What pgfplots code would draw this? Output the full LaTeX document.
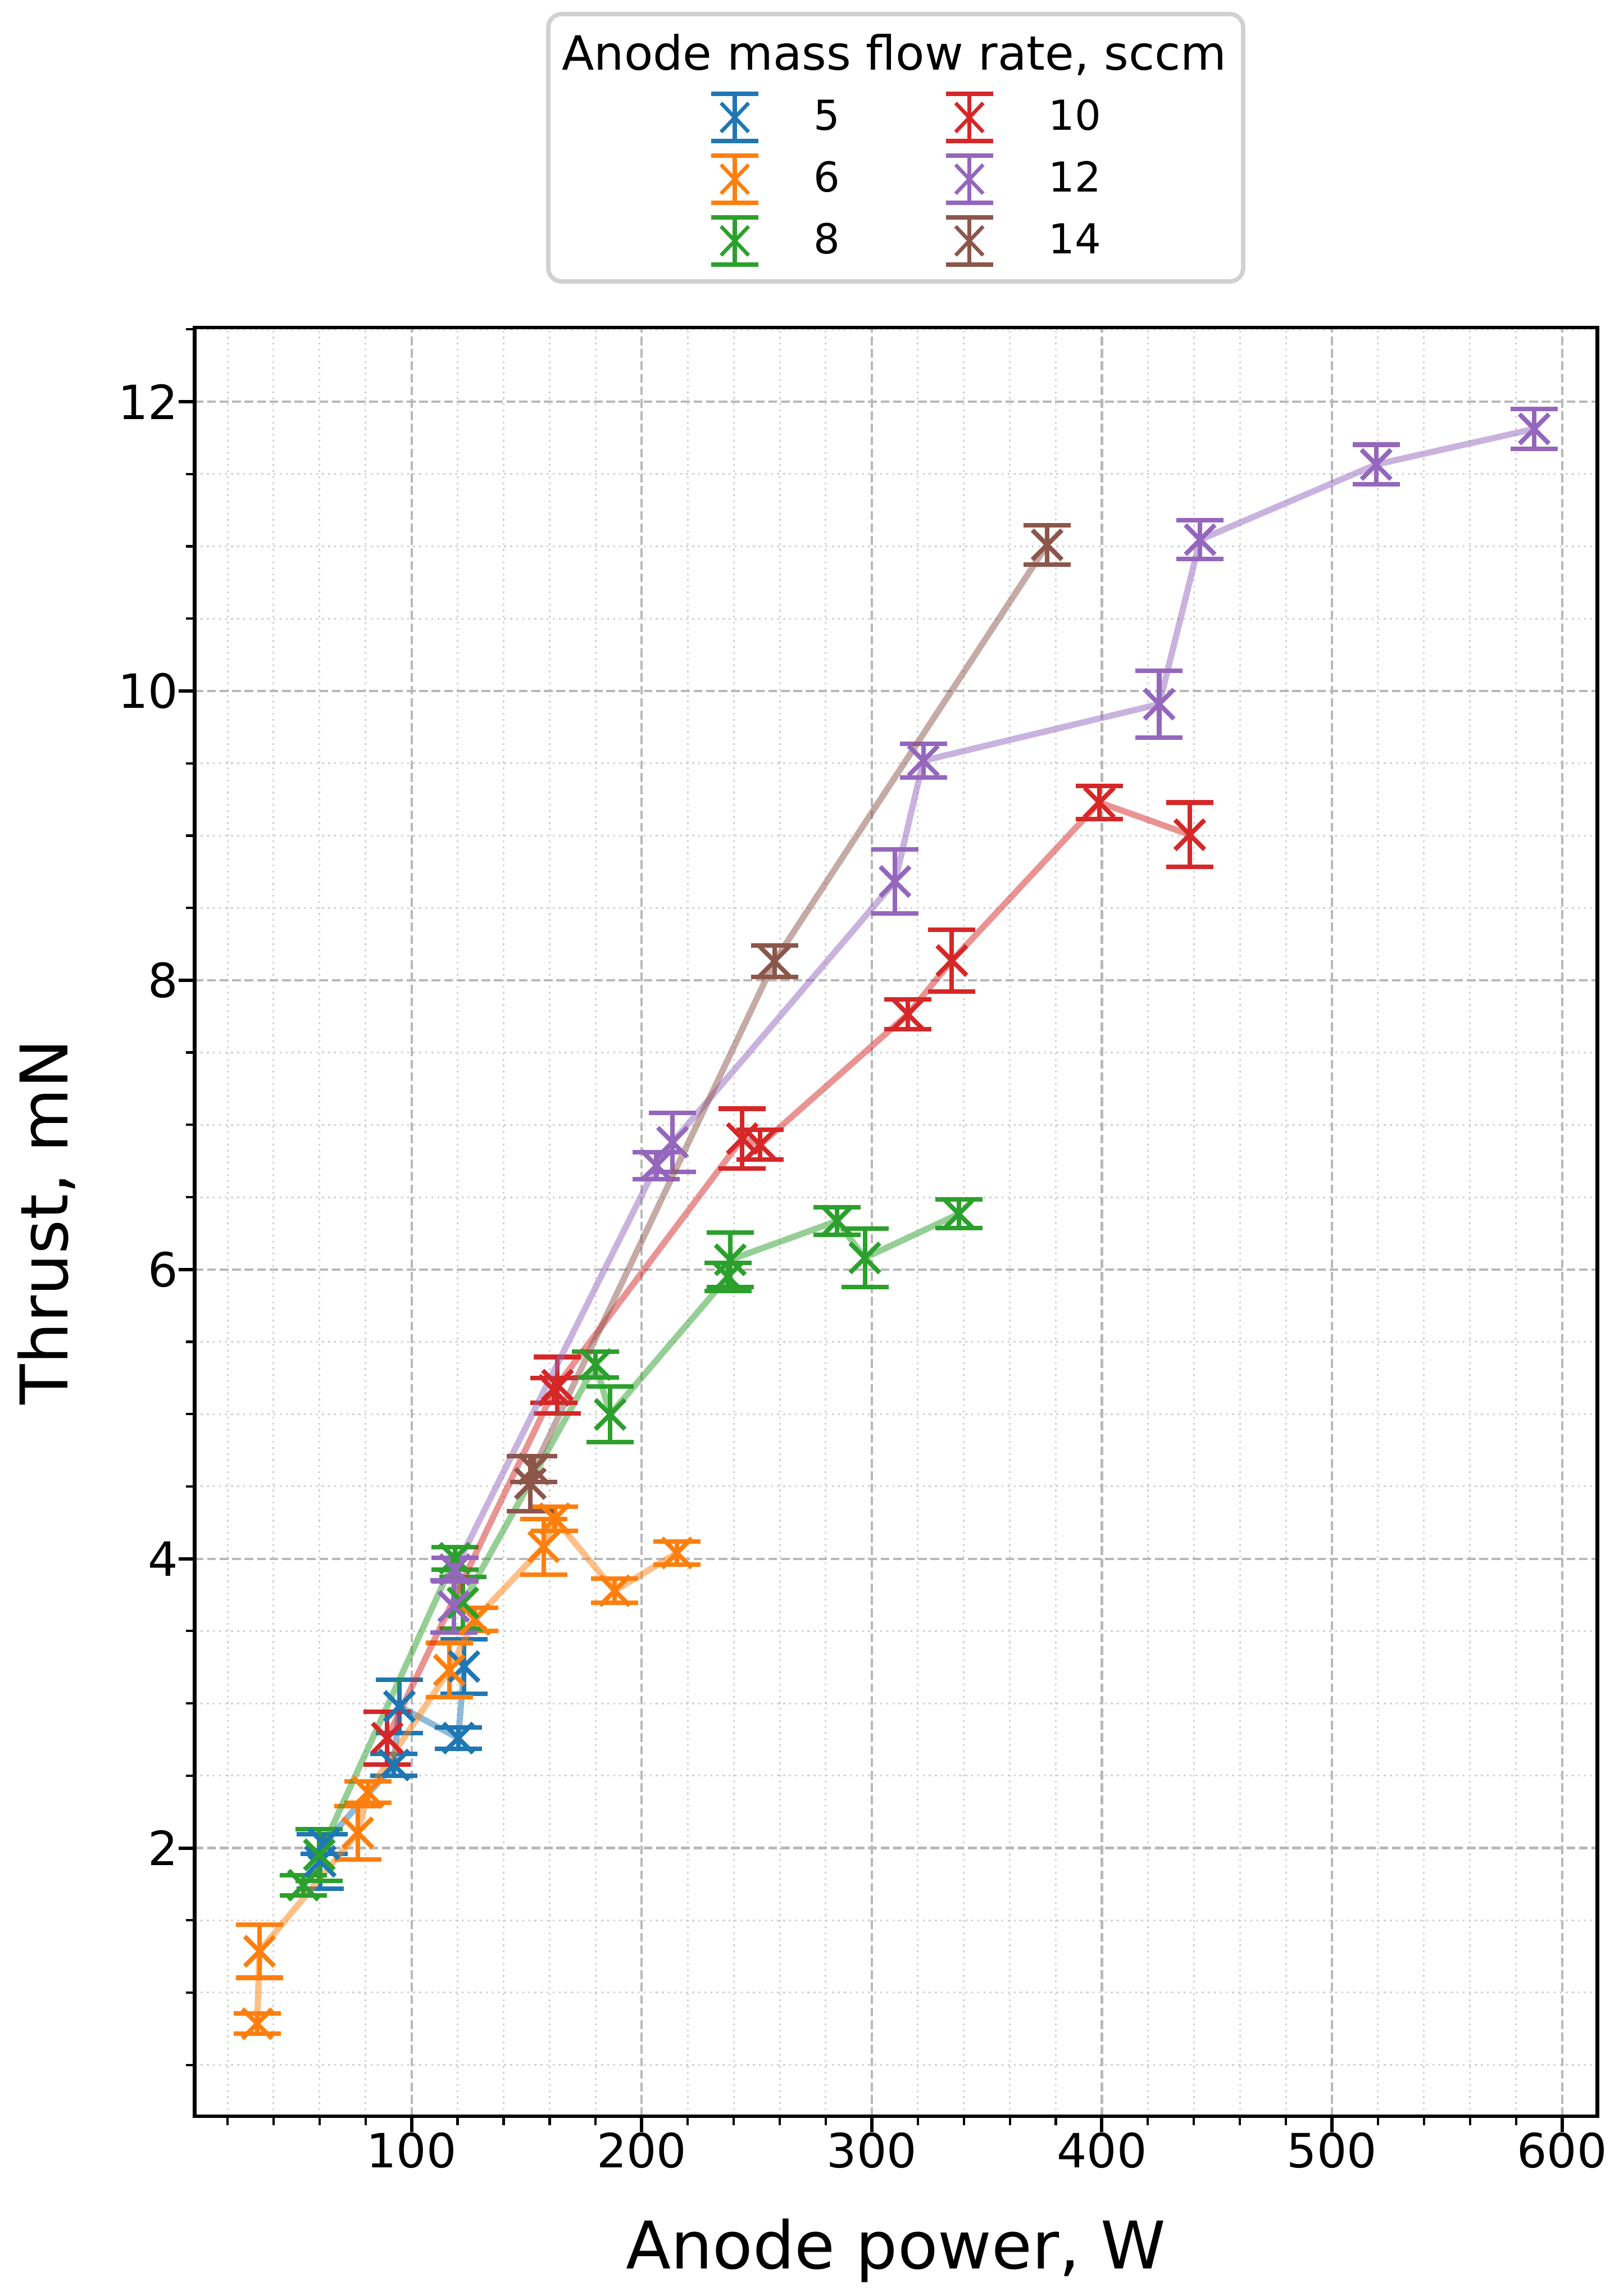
\documentclass[border=0pt]{standalone}
\usepackage{fontspec}
\setmainfont{DejaVu Sans}
\usepackage{pgfplots}
\usepackage{pgfplotstable}
\pgfplotsset{compat=1.18}

\definecolor{c0}{HTML}{1F77B4}
\definecolor{c1}{HTML}{FF7F0E}
\definecolor{c2}{HTML}{2CA02C}
\definecolor{c3}{HTML}{D62728}
\definecolor{c4}{HTML}{9467BD}
\definecolor{c5}{HTML}{8C564B}
\definecolor{gridmaj}{HTML}{B8B8B8}
\definecolor{gridmin}{HTML}{D0D0D0}

\pgfplotstableread{
x y e
60.3 1.908 0.189
61.9 2.029 0.068
92.3 2.574 0.076
94.7 2.979 0.183
120.3 2.760 0.075
122.8 3.255 0.188
}\dataA

\pgfplotstableread{
x y e
32.9 0.785 0.070
33.9 1.286 0.183
76.6 2.105 0.183
81.0 2.386 0.074
116.4 3.230 0.188
127.5 3.580 0.079
157.4 4.083 0.192
162.2 4.277 0.084
188.3 3.779 0.083
215.3 4.040 0.080
}\dataB

\pgfplotstableread{
x y e
53.0 1.743 0.070
59.9 1.953 0.179
118.8 4.003 0.078
122.3 3.695 0.180
180.0 5.343 0.090
186.3 4.998 0.193
237.5 5.950 0.097
238.5 6.067 0.190
284.9 6.335 0.095
297.0 6.080 0.202
337.8 6.384 0.099
}\dataC

\pgfplotstableread{
x y e
89.4 2.760 0.183
161.9 5.165 0.085
163.4 5.200 0.195
243.7 6.905 0.207
251.5 6.863 0.103
315.7 7.765 0.104
334.8 8.136 0.214
398.9 9.229 0.115
438.2 9.006 0.223
}\dataD

\pgfplotstableread{
x y e
118.3 3.670 0.180
118.8 3.925 0.080
206.4 6.719 0.093
213.4 6.880 0.204
310.1 8.683 0.220
322.4 9.518 0.117
424.9 9.909 0.230
442.7 11.046 0.135
519.2 11.566 0.137
587.9 11.812 0.137
}\dataE

\pgfplotstableread{
x y e
151.6 4.520 0.190
153.0 4.620 0.088
257.7 8.131 0.109
376.2 11.010 0.135
}\dataF

\pgfplotsset{
  conn/.style={line width=1.85pt, draw opacity=0.5, line join=round, forget plot},
  ebar/.style={only marks, mark=x, mark size=6.2pt,
    mark options={line width=1.35pt, solid},
    forget plot,
    error bars/.cd, y dir=both, y explicit, error mark=|,
    error bar style={line width=1.35pt},
    error mark options={line width=1.35pt, mark size=7pt, solid}},
  ebleg/.style={legend image code/.code={
    \path[draw=none,fill=none] (0pt,-9.15pt) rectangle (14pt,9.15pt);
    \draw[line width=1.3pt] (7pt,-7pt) -- (7pt,7pt);
    \draw[line width=1.3pt] (0pt,7pt) -- (14pt,7pt);
    \draw[line width=1.3pt] (0pt,-7pt) -- (14pt,-7pt);
    \draw[line width=1.1pt] (2.9pt,-4.3pt) -- (11.1pt,4.3pt) (2.9pt,4.3pt) -- (11.1pt,-4.3pt);
  }},
}

\begin{document}
\begin{tikzpicture}
\path[use as bounding box] (-57.78pt,-53.33pt) rectangle (422.55pt,627.84pt);
\begin{axis}[
  at={(0pt,0pt)}, anchor=south west,
  scale only axis, width=416.18pt, height=530.67pt,
  xmin=5.76, xmax=615.4, ymin=0.1453, ymax=12.513,
  xtick={100,200,...,600}, ytick={2,4,...,12},
  minor xtick={20,40,60,80,120,140,160,180,220,240,260,280,320,340,360,380,420,440,460,480,520,540,560,580},
  minor ytick={0.5,1,1.5,2.5,3,3.5,4.5,5,5.5,6.5,7,7.5,8.5,9,9.5,10.5,11,11.5,12.5},
  tick pos=left,
  tick align=outside, major tick length=4.7pt, minor tick length=2.6pt,
  every tick/.style={black},
  major tick style={line width=1pt, black},
  minor tick style={line width=0.7pt, black},
  axis line style={line width=1.1pt, black},
  grid=both,
  major grid style={gridmaj, line width=0.7pt, dash pattern=on 2.6pt off 1.1pt},
  minor grid style={gridmin, line width=0.5pt, dash pattern=on 0.55pt off 1.25pt},
  /pgf/number format/assume math mode=true,
  xticklabel style={font=\fontsize{14}{16}\selectfont, inner sep=0pt, anchor=north},
  yticklabel style={font=\fontsize{14}{16}\selectfont, inner sep=0pt, anchor=east},
  xlabel={Anode power, W},
  ylabel={Thrust, mN},
  xlabel style={at={(axis description cs:0.5,-0.08512)}, anchor=base, inner sep=0pt, font=\fontsize{19.5}{22}\selectfont},
  ylabel style={at={(axis description cs:-0.09051,0.5)}, anchor=base, rotate=0, inner sep=0pt, font=\fontsize{19.5}{22}\selectfont},
  legend columns=2,
  legend cell align=left,
  legend style={at={(0.50632,1.08293)}, anchor=center, draw=none, fill=none,
    inner sep=0pt, row sep=0pt,
    font=\fontsize{12.25}{14}\selectfont,
    nodes={inner sep=0pt},
    /tikz/every odd column/.style={column sep=15.8pt},
    /tikz/every even column/.style={column sep=30.7pt}},
]
\addplot[c0, conn] table[x=x,y=y]{\dataA};
\addplot[c0, ebar] table[x=x,y=y,y error=e]{\dataA};
\addplot[c1, conn] table[x=x,y=y]{\dataB};
\addplot[c1, ebar] table[x=x,y=y,y error=e]{\dataB};
\addplot[c2, conn] table[x=x,y=y]{\dataC};
\addplot[c2, ebar] table[x=x,y=y,y error=e]{\dataC};
\addplot[c3, conn] table[x=x,y=y]{\dataD};
\addplot[c3, ebar] table[x=x,y=y,y error=e]{\dataD};
\addplot[c4, conn] table[x=x,y=y]{\dataE};
\addplot[c4, ebar] table[x=x,y=y,y error=e]{\dataE};
\addplot[c5, conn] table[x=x,y=y]{\dataF};
\addplot[c5, ebar] table[x=x,y=y,y error=e]{\dataF};

\addlegendimage{c0, ebleg}\addlegendentry{5}
\addlegendimage{c3, ebleg}\addlegendentry{10}
\addlegendimage{c1, ebleg}\addlegendentry{6}
\addlegendimage{c4, ebleg}\addlegendentry{12}
\addlegendimage{c2, ebleg}\addlegendentry{8}
\addlegendimage{c5, ebleg}\addlegendentry{14}
\end{axis}
\draw[black!18, line width=1.3pt, rounded corners=4pt] (104.88pt,544.33pt) rectangle (311.05pt,623.67pt);
\node[font=\fontsize{14}{16}\selectfont, anchor=base, inner sep=0pt] at (207.55pt,607.17pt) {Anode mass flow rate, sccm};
\end{tikzpicture}
\end{document}
